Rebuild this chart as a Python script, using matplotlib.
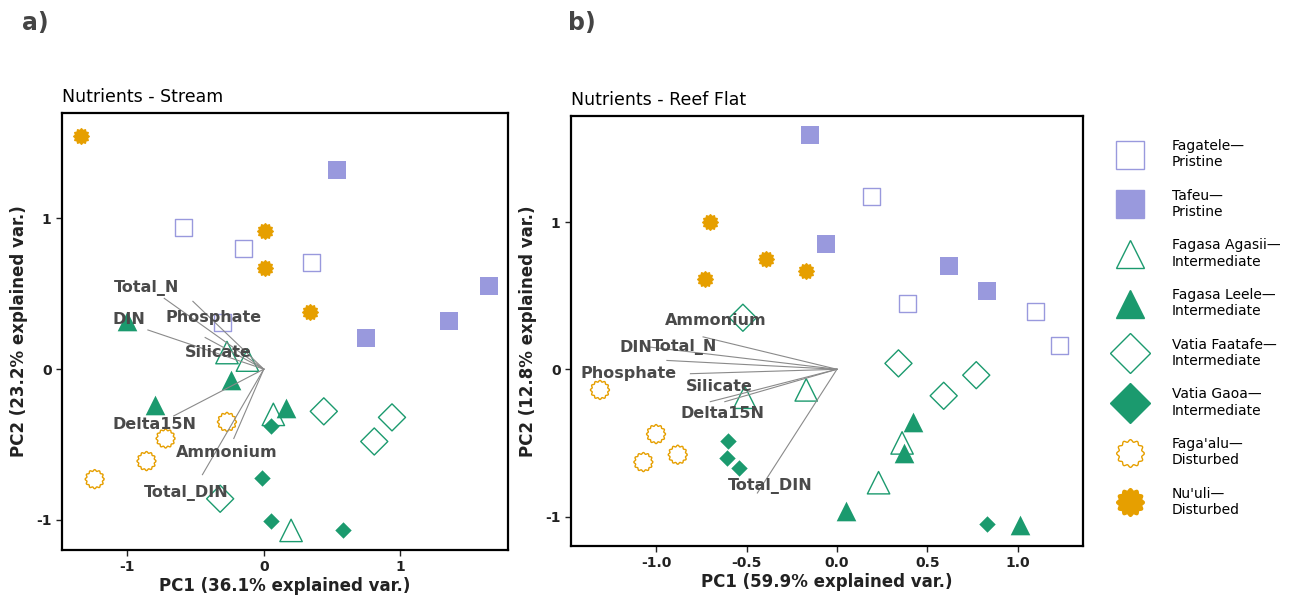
import numpy as np
import matplotlib
matplotlib.use('Agg')
import matplotlib.pyplot as plt
from matplotlib.lines import Line2D

# sites in legend order
sites = ['Fagatele', 'Tafeu', 'Fagasa Agasii', 'Fagasa Leele',
         'Vatia Faatafe', 'Vatia Gaoa', "Faga'alu", "Nu'uli"]
site_labels = ['Fagatele\u2014\nPristine', 'Tafeu\u2014\nPristine',
               'Fagasa Agasii\u2014\nIntermediate', 'Fagasa Leele\u2014\nIntermediate',
               'Vatia Faatafe\u2014\nIntermediate', 'Vatia Gaoa\u2014\nIntermediate',
               "Faga'alu\u2014\nDisturbed", "Nu'uli\u2014\nDisturbed"]

# a) stream PCA scores
stream_site = ['Fagatele'] * 4 + ['Tafeu'] * 4 + ['Fagasa Agasii'] * 4 + ['Fagasa Leele'] * 4 \
    + ['Vatia Faatafe'] * 4 + ['Vatia Gaoa'] * 4 + ["Faga'alu"] * 4 + ["Nu'uli"] * 4
stream_pc1 = [-0.59, -0.15, 0.35, -0.30,
              0.54, 0.75, 1.36, 1.65,
              -0.27, -0.12, 0.07, 0.20,
              -1.00, -0.24, -0.80, 0.16,
              0.44, 0.94, 0.81, -0.32,
              0.05, -0.01, 0.05, 0.58,
              -0.27, -0.72, -0.86, -1.24,
              -1.34, 0.01, 0.01, 0.34]
stream_pc2 = [0.94, 0.80, 0.71, 0.31,
              1.32, 0.21, 0.32, 0.55,
              0.11, 0.06, -0.30, -1.07,
              0.32, -0.07, -0.24, -0.26,
              -0.28, -0.32, -0.48, -0.86,
              -0.38, -0.72, -1.01, -1.07,
              -0.35, -0.46, -0.61, -0.73,
              1.55, 0.92, 0.67, 0.38]
stream_xticks = [-1, 0, 1]
stream_yticks = [-1, 0, 1]

# b) reef flat PCA scores
reef_site = stream_site
reef_pc1 = [0.19, 0.39, 1.10, 1.23,
            -0.15, -0.06, 0.62, 0.83,
            -0.51, -0.17, 0.23, 0.36,
            0.42, 0.37, 0.05, 1.01,
            -0.52, 0.34, 0.59, 0.77,
            -0.60, -0.61, -0.54, 0.83,
            -1.31, -1.00, -1.07, -0.88,
            -0.70, -0.73, -0.39, -0.17]
reef_pc2 = [1.17, 0.45, 0.39, 0.16,
            1.59, 0.85, 0.70, 0.53,
            -0.19, -0.14, -0.77, -0.50,
            -0.36, -0.57, -0.96, -1.06,
            0.35, 0.04, -0.18, -0.04,
            -0.49, -0.60, -0.67, -1.05,
            -0.14, -0.44, -0.63, -0.58,
            1.00, 0.61, 0.75, 0.67]
reef_xticks = [-1.0, -0.5, 0.0, 0.5, 1.0]
reef_yticks = [-1, 0, 1]

# variable loadings (arrow tips)
variables = ['Total_N', 'Phosphate', 'DIN', 'Silicate', 'Delta15N', 'Ammonium', 'Total_DIN']
stream_load_x = [-0.73, -0.52, -0.85, -0.43, -0.66, -0.22, -0.45]
stream_load_y = [0.47, 0.45, 0.26, 0.21, -0.31, -0.46, -0.70]
reef_load_x = [-0.94, -0.81, -1.03, -0.70, -0.62, -0.74, -0.44]
reef_load_y = [0.06, -0.03, 0.15, -0.22, -0.22, 0.22, -0.84]

# label placement (layout only)
stream_text_xy = {'Total_N': (-0.86, 0.54), 'Phosphate': (-0.37, 0.34), 'DIN': (-0.99, 0.33),
                  'Silicate': (-0.33, 0.11), 'Delta15N': (-0.80, -0.37),
                  'Ammonium': (-0.27, -0.55), 'Total_DIN': (-0.57, -0.82)}
reef_text_xy = {'Total_N': (-0.84, 0.15), 'Phosphate': (-1.15, -0.03), 'DIN': (-1.11, 0.15),
                'Silicate': (-0.65, -0.12), 'Delta15N': (-0.63, -0.30),
                'Ammonium': (-0.67, 0.33), 'Total_DIN': (-0.37, -0.79)}

PURPLE = '#9999dd'
GREEN = '#1b9a6e'
ORANGE = '#e69f00'

t = np.linspace(0, 2 * np.pi, 97)
r = 1 + 0.09 * np.cos(12 * t)
sun = np.column_stack([r * np.cos(t), r * np.sin(t)])

style = {
    'Fagatele': dict(marker='s', s=150, facecolors='none', edgecolors=PURPLE, linewidths=1.0),
    'Tafeu': dict(marker='s', s=150, facecolors=PURPLE, edgecolors=PURPLE, linewidths=0),
    'Fagasa Agasii': dict(marker='^', s=260, facecolors='none', edgecolors=GREEN, linewidths=1.0),
    'Fagasa Leele': dict(marker='^', s=200, facecolors=GREEN, edgecolors=GREEN, linewidths=0),
    'Vatia Faatafe': dict(marker='D', s=190, facecolors='none', edgecolors=GREEN, linewidths=1.0),
    'Vatia Gaoa': dict(marker='D', s=70, facecolors=GREEN, edgecolors=GREEN, linewidths=0),
    "Faga'alu": dict(marker=sun, s=190, facecolors='none', edgecolors=ORANGE, linewidths=1.0),
    "Nu'uli": dict(marker=sun, s=150, facecolors=ORANGE, edgecolors=ORANGE, linewidths=0),
}


def panel(ax, site, pc1, pc2, lx, ly, text_xy, xticks, yticks, fmt):
    site = np.array(site)
    pc1 = np.array(pc1)
    pc2 = np.array(pc2)
    for name in sites:
        m = site == name
        ax.scatter(pc1[m], pc2[m], zorder=2, **style[name])
    for v, x, y in zip(variables, lx, ly):
        ax.plot([0, x], [0, y], color='#8a8a8a', lw=0.8, zorder=3)
        tx, ty = text_xy[v]
        ax.text(tx, ty, v, ha='center', va='center', fontsize=11.5, fontweight='bold',
                color='#4a4a4a', zorder=4)
    for s in ax.spines.values():
        s.set_linewidth(1.6)
    ax.set_xticks(xticks, labels=[fmt.format(v) for v in xticks], fontweight='bold')
    ax.set_yticks(yticks, labels=['{:g}'.format(v) for v in yticks], fontweight='bold')
    ax.tick_params(labelsize=10, length=4, width=1, colors='#222222')


fig = plt.figure(figsize=(12.99, 6.04), dpi=100)

ax1 = fig.add_axes([0.0477, 0.0894, 0.3433, 0.7236])
panel(ax1, stream_site, stream_pc1, stream_pc2, stream_load_x, stream_load_y, stream_text_xy,
      stream_xticks, stream_yticks, '{:g}')
ax1.set_xlim(-1.48, 1.79)
ax1.set_ylim(-1.20, 1.70)
ax1.set_xlabel('PC1 (36.1% explained var.)', fontsize=12, fontweight='bold', color='#222222', labelpad=2)
ax1.set_ylabel('PC2 (23.2% explained var.)', fontsize=12, fontweight='bold', color='#222222', labelpad=6)
ax1.set_title('Nutrients - Stream', loc='left', fontsize=12.5, pad=8)

ax2 = fig.add_axes([0.4396, 0.096, 0.3941, 0.712])
panel(ax2, reef_site, reef_pc1, reef_pc2, reef_load_x, reef_load_y, reef_text_xy,
      reef_xticks, reef_yticks, '{:.1f}')
ax2.set_xlim(-1.47, 1.36)
ax2.set_ylim(-1.20, 1.72)
ax2.set_xlabel('PC1 (59.9% explained var.)', fontsize=12, fontweight='bold', color='#222222', labelpad=2)
ax2.set_ylabel('PC2 (12.8% explained var.)', fontsize=12, fontweight='bold', color='#222222', labelpad=6)
ax2.set_title('Nutrients - Reef Flat', loc='left', fontsize=12.5, pad=8)

fig.text(0.017, 0.962, 'a)', fontsize=17, fontweight='bold', color='#444444', va='center')
fig.text(0.437, 0.962, 'b)', fontsize=17, fontweight='bold', color='#444444', va='center')

# legend
handles = []
for name in sites:
    st = style[name]
    handles.append(Line2D([], [], linestyle='none', marker=st['marker'], markersize=20,
                          markerfacecolor=st['facecolors'],
                          markeredgecolor=st['edgecolors'], markeredgewidth=1.0))
fig.legend(handles, site_labels, loc='center left', bbox_to_anchor=(0.852, 0.457),
           frameon=False, fontsize=10, labelspacing=1.4, handletextpad=2.2,
           handlelength=1.6)

fig.savefig('out.png', dpi=100)
